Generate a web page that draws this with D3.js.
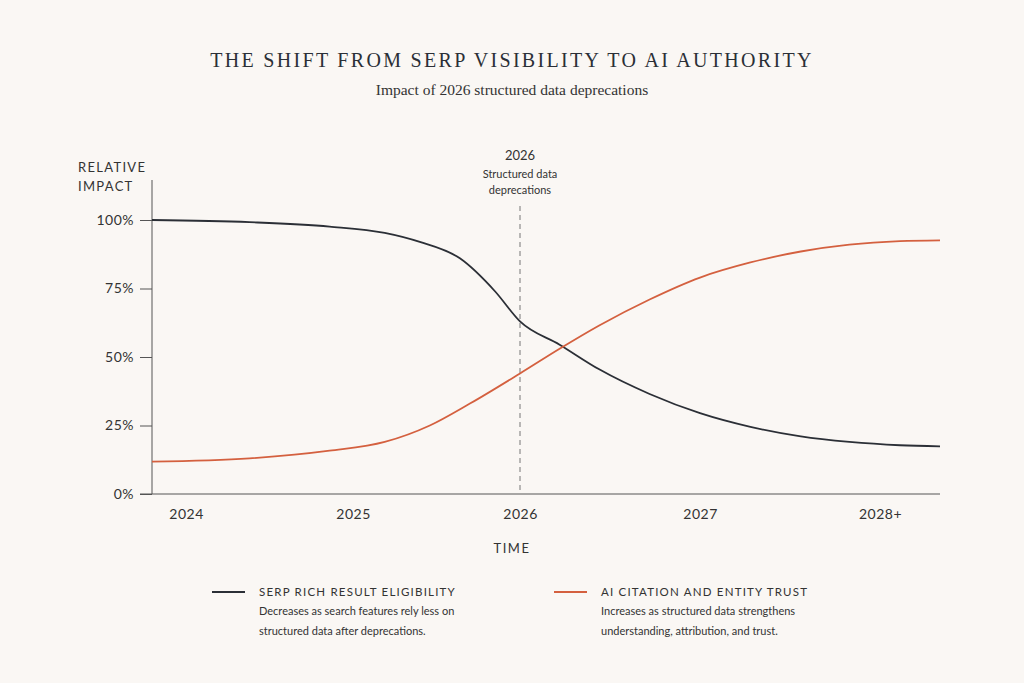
<!DOCTYPE html><html><head><meta charset="utf-8"><script src="https://cdn.jsdelivr.net/npm/d3@7"></script>
<style>body{margin:0;background:#faf7f4}</style></head><body><svg id="c" width="1024" height="683"></svg>
<script>
const years=[2024,2025,2026,2027,2028];
const yearLabels=["2024","2025","2026","2027","2028+"];
const yTicks=[0,25,50,75,100];
const serpT=[2023.8,2024.38,2024.86,2025.19,2025.40,2025.64,2025.85,2026,2026.22,2026.44,2026.72,2027,2027.28,2027.56,2027.83,2028.11,2028.33];
const serpV=[100,99.2,97.6,95.3,92,86,74,63,54.5,45.5,36.5,29.5,24.5,21,19,17.8,17.4];
const aiT=[2023.8,2024.38,2024.86,2025.19,2025.46,2025.70,2026,2026.22,2026.44,2026.72,2027,2027.28,2027.56,2027.83,2028.11,2028.33];
const aiV=[11.8,13,15.8,19,25,33,44,53,61.5,71,79,84.5,88.5,91,92.3,92.6];
const svg=d3.select("#c");
svg.append("rect").attr("width",1024).attr("height",683).attr("fill","#faf7f4");
const x=d3.scaleLinear().domain([2023.8,2024,2025,2026,2027,2028,2028.33]).range([152,186,353,520,700,880,940]);
const y=d3.scaleLinear().domain([0,100]).range([494,220]);
const ink="#2b2f36",orange="#d4603f",grey="#555";
svg.append("text").attr("x",512).attr("y",67).attr("text-anchor","middle").attr("font-family","Liberation Serif, serif").attr("font-size",20).attr("letter-spacing",2.3).attr("fill",ink).text("THE SHIFT FROM SERP VISIBILITY TO AI AUTHORITY");
svg.append("text").attr("x",512).attr("y",95).attr("text-anchor","middle").attr("font-family","Liberation Serif, serif").attr("font-size",15.5).attr("fill","#333").text("Impact of 2026 structured data deprecations");
const sans="Lato, sans-serif";
const ya=svg.append("g").attr("transform","translate(152,0)").call(d3.axisLeft(y).tickValues(yTicks).tickFormat(d=>d+"%").tickSize(12).tickPadding(6));
ya.select(".domain").attr("d","M0,180V494");
const xa=svg.append("g").attr("transform","translate(0,494)").call(d3.axisBottom(x).tickValues(years).tickFormat((d,i)=>yearLabels[i]).tickSize(0).tickPadding(15));
xa.select(".domain").attr("d","M140,0H940");
[ya,xa].forEach(g=>{g.selectAll("path,line").attr("stroke",grey);g.selectAll("text").attr("font-family",sans).attr("font-size",14).attr("fill","#333").attr("letter-spacing",0.5);});
svg.append("text").attr("x",78).attr("y",172).attr("font-family",sans).attr("font-size",13).attr("letter-spacing",1.3).attr("fill","#333").text("RELATIVE");
svg.append("text").attr("x",78).attr("y",191).attr("font-family",sans).attr("font-size",13).attr("letter-spacing",1.3).attr("fill","#333").text("IMPACT");
svg.append("text").attr("x",512).attr("y",553).attr("text-anchor","middle").attr("font-family",sans).attr("font-size",13).attr("letter-spacing",1.5).attr("fill","#333").text("TIME");
svg.append("line").attr("x1",x(2026)).attr("x2",x(2026)).attr("y1",206).attr("y2",494).attr("stroke","#777").attr("stroke-dasharray","5,4").attr("stroke-width",1);
const ann=[["2026",13,160],["Structured data",11,178],["deprecations",11,194]];
ann.forEach(a=>svg.append("text").attr("x",x(2026)).attr("y",a[2]).attr("text-anchor","middle").attr("font-family",sans).attr("font-size",a[1]).attr("fill","#333").text(a[0]));
const line=d3.line().curve(d3.curveMonotoneX);
svg.append("path").attr("d",line(serpT.map((t,i)=>[x(t),y(serpV[i])]))).attr("fill","none").attr("stroke",ink).attr("stroke-width",1.8);
svg.append("path").attr("d",line(aiT.map((t,i)=>[x(t),y(aiV[i])]))).attr("fill","none").attr("stroke",orange).attr("stroke-width",1.8);
const leg=[{x:212,c:ink,t:"SERP RICH RESULT ELIGIBILITY",d:["Decreases as search features rely less on","structured data after deprecations."]},
{x:554,c:orange,t:"AI CITATION AND ENTITY TRUST",d:["Increases as structured data strengthens","understanding, attribution, and trust."]}];
leg.forEach(l=>{
 svg.append("line").attr("x1",l.x).attr("x2",l.x+33).attr("y1",592).attr("y2",592).attr("stroke",l.c).attr("stroke-width",2);
 svg.append("text").attr("x",l.x+47).attr("y",596).attr("font-family",sans).attr("font-size",11.5).attr("letter-spacing",1.2).attr("fill","#333").text(l.t);
 l.d.forEach((s,i)=>svg.append("text").attr("x",l.x+47).attr("y",615+i*20).attr("font-family",sans).attr("font-size",11).attr("fill","#333").text(s));
});
</script></body></html>
